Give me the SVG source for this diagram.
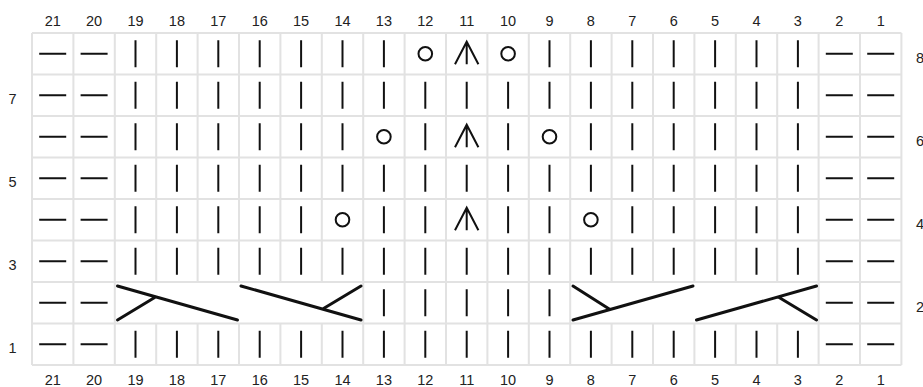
<svg xmlns="http://www.w3.org/2000/svg" xmlns:xlink="http://www.w3.org/1999/xlink" width="923" height="387" viewBox="0 0 923 387">
<style>
.grid{stroke:#e2e2e2;stroke-width:2;fill:none}
.sym{stroke:#111;stroke-width:2;fill:none;stroke-linecap:butt}
.cab{stroke:#111;stroke-width:3;fill:none;stroke-linecap:round}
.lbl{font-family:"Liberation Sans",Arial,sans-serif;font-size:14.5px;fill:#222;text-anchor:middle}
.rl{font-family:"Liberation Sans",Arial,sans-serif;font-size:14.5px;fill:#222}
</style>
<defs>
<path id="k" class="sym" d="M0,-13.5V13.5"/>
<path id="p" class="sym" d="M-13.5,0H13.5"/>
<circle id="o" class="sym" r="6.8" stroke-width="1.8"/>
<path id="a" class="sym" d="M0,-12V10.5M-11.7,10.5L0,-12L11.7,10.5"/>
</defs>
<rect width="923" height="387" fill="#fff"/>
<g id="grid" class="grid">
<path d="M32,33H901.4M32,74.5H901.4M32,116H901.4M32,157.5H901.4M32,199H901.4M32,240.5H901.4M32,282H901.4M32,323.5H901.4M32,365H901.4"/>
<path d="M32,33V365M73.4,33V365M114.8,33V365M363.2,33V365M404.6,33V365M446,33V365M487.4,33V365M528.8,33V365M570.2,33V365M818.6,33V365M860,33V365M901.4,33V365"/>
<path d="M156.2,33V282M197.6,33V282M239,33V282M280.4,33V282M321.8,33V282M611.6,33V282M653,33V282M694.4,33V282M735.8,33V282M777.2,33V282"/>
<path d="M156.2,323.5V365M197.6,323.5V365M239,323.5V365M280.4,323.5V365M321.8,323.5V365M611.6,323.5V365M653,323.5V365M694.4,323.5V365M735.8,323.5V365M777.2,323.5V365"/>
</g>
<g id="col-labels-top" class="lbl">
<text x="52.7" y="26">21</text><text x="94.1" y="26">20</text><text x="135.5" y="26">19</text><text x="176.9" y="26">18</text><text x="218.3" y="26">17</text><text x="259.7" y="26">16</text><text x="301.1" y="26">15</text><text x="342.5" y="26">14</text><text x="383.9" y="26">13</text><text x="425.3" y="26">12</text><text x="466.7" y="26">11</text><text x="508.1" y="26">10</text><text x="549.5" y="26">9</text><text x="590.9" y="26">8</text><text x="632.3" y="26">7</text><text x="673.7" y="26">6</text><text x="715.1" y="26">5</text><text x="756.5" y="26">4</text><text x="797.9" y="26">3</text><text x="839.3" y="26">2</text><text x="880.7" y="26">1</text>
</g>
<g id="col-labels-bottom" class="lbl">
<text x="52.7" y="384.5">21</text><text x="94.1" y="384.5">20</text><text x="135.5" y="384.5">19</text><text x="176.9" y="384.5">18</text><text x="218.3" y="384.5">17</text><text x="259.7" y="384.5">16</text><text x="301.1" y="384.5">15</text><text x="342.5" y="384.5">14</text><text x="383.9" y="384.5">13</text><text x="425.3" y="384.5">12</text><text x="466.7" y="384.5">11</text><text x="508.1" y="384.5">10</text><text x="549.5" y="384.5">9</text><text x="590.9" y="384.5">8</text><text x="632.3" y="384.5">7</text><text x="673.7" y="384.5">6</text><text x="715.1" y="384.5">5</text><text x="756.5" y="384.5">4</text><text x="797.9" y="384.5">3</text><text x="839.3" y="384.5">2</text><text x="880.7" y="384.5">1</text>
</g>
<g id="row-labels-left" class="lbl">
<text x="12.5" y="103.5">7</text><text x="12.5" y="186.5">5</text><text x="12.5" y="269.5">3</text><text x="12.5" y="352.5">1</text>
</g>
<g id="row-labels-right" class="rl">
<text x="916" y="62.5">8</text><text x="916" y="145.5">6</text><text x="916" y="228.5">4</text><text x="916" y="311.5">2</text>
</g>
<g id="row8">
<use href="#p" x="52.7" y="53.75"/><use href="#p" x="94.1" y="53.75"/>
<use href="#k" x="135.5" y="53.75"/><use href="#k" x="176.9" y="53.75"/><use href="#k" x="218.3" y="53.75"/><use href="#k" x="259.7" y="53.75"/><use href="#k" x="301.1" y="53.75"/><use href="#k" x="342.5" y="53.75"/><use href="#k" x="383.9" y="53.75"/>
<use href="#o" x="425.3" y="53.75"/><use href="#a" x="466.7" y="53.75"/><use href="#o" x="508.1" y="53.75"/>
<use href="#k" x="549.5" y="53.75"/><use href="#k" x="590.9" y="53.75"/><use href="#k" x="632.3" y="53.75"/><use href="#k" x="673.7" y="53.75"/><use href="#k" x="715.1" y="53.75"/><use href="#k" x="756.5" y="53.75"/><use href="#k" x="797.9" y="53.75"/>
<use href="#p" x="839.3" y="53.75"/><use href="#p" x="880.7" y="53.75"/>
</g>
<g id="row7">
<use href="#p" x="52.7" y="95.25"/><use href="#p" x="94.1" y="95.25"/>
<use href="#k" x="135.5" y="95.25"/><use href="#k" x="176.9" y="95.25"/><use href="#k" x="218.3" y="95.25"/><use href="#k" x="259.7" y="95.25"/><use href="#k" x="301.1" y="95.25"/><use href="#k" x="342.5" y="95.25"/><use href="#k" x="383.9" y="95.25"/><use href="#k" x="425.3" y="95.25"/><use href="#k" x="466.7" y="95.25"/><use href="#k" x="508.1" y="95.25"/><use href="#k" x="549.5" y="95.25"/><use href="#k" x="590.9" y="95.25"/><use href="#k" x="632.3" y="95.25"/><use href="#k" x="673.7" y="95.25"/><use href="#k" x="715.1" y="95.25"/><use href="#k" x="756.5" y="95.25"/><use href="#k" x="797.9" y="95.25"/>
<use href="#p" x="839.3" y="95.25"/><use href="#p" x="880.7" y="95.25"/>
</g>
<g id="row6">
<use href="#p" x="52.7" y="136.75"/><use href="#p" x="94.1" y="136.75"/>
<use href="#k" x="135.5" y="136.75"/><use href="#k" x="176.9" y="136.75"/><use href="#k" x="218.3" y="136.75"/><use href="#k" x="259.7" y="136.75"/><use href="#k" x="301.1" y="136.75"/><use href="#k" x="342.5" y="136.75"/>
<use href="#o" x="383.9" y="136.75"/><use href="#k" x="425.3" y="136.75"/><use href="#a" x="466.7" y="136.75"/><use href="#k" x="508.1" y="136.75"/><use href="#o" x="549.5" y="136.75"/>
<use href="#k" x="590.9" y="136.75"/><use href="#k" x="632.3" y="136.75"/><use href="#k" x="673.7" y="136.75"/><use href="#k" x="715.1" y="136.75"/><use href="#k" x="756.5" y="136.75"/><use href="#k" x="797.9" y="136.75"/>
<use href="#p" x="839.3" y="136.75"/><use href="#p" x="880.7" y="136.75"/>
</g>
<g id="row5">
<use href="#p" x="52.7" y="178.25"/><use href="#p" x="94.1" y="178.25"/>
<use href="#k" x="135.5" y="178.25"/><use href="#k" x="176.9" y="178.25"/><use href="#k" x="218.3" y="178.25"/><use href="#k" x="259.7" y="178.25"/><use href="#k" x="301.1" y="178.25"/><use href="#k" x="342.5" y="178.25"/><use href="#k" x="383.9" y="178.25"/><use href="#k" x="425.3" y="178.25"/><use href="#k" x="466.7" y="178.25"/><use href="#k" x="508.1" y="178.25"/><use href="#k" x="549.5" y="178.25"/><use href="#k" x="590.9" y="178.25"/><use href="#k" x="632.3" y="178.25"/><use href="#k" x="673.7" y="178.25"/><use href="#k" x="715.1" y="178.25"/><use href="#k" x="756.5" y="178.25"/><use href="#k" x="797.9" y="178.25"/>
<use href="#p" x="839.3" y="178.25"/><use href="#p" x="880.7" y="178.25"/>
</g>
<g id="row4">
<use href="#p" x="52.7" y="219.75"/><use href="#p" x="94.1" y="219.75"/>
<use href="#k" x="135.5" y="219.75"/><use href="#k" x="176.9" y="219.75"/><use href="#k" x="218.3" y="219.75"/><use href="#k" x="259.7" y="219.75"/><use href="#k" x="301.1" y="219.75"/>
<use href="#o" x="342.5" y="219.75"/><use href="#k" x="383.9" y="219.75"/><use href="#k" x="425.3" y="219.75"/><use href="#a" x="466.7" y="219.75"/><use href="#k" x="508.1" y="219.75"/><use href="#k" x="549.5" y="219.75"/><use href="#o" x="590.9" y="219.75"/>
<use href="#k" x="632.3" y="219.75"/><use href="#k" x="673.7" y="219.75"/><use href="#k" x="715.1" y="219.75"/><use href="#k" x="756.5" y="219.75"/><use href="#k" x="797.9" y="219.75"/>
<use href="#p" x="839.3" y="219.75"/><use href="#p" x="880.7" y="219.75"/>
</g>
<g id="row3">
<use href="#p" x="52.7" y="261.25"/><use href="#p" x="94.1" y="261.25"/>
<use href="#k" x="135.5" y="261.25"/><use href="#k" x="176.9" y="261.25"/><use href="#k" x="218.3" y="261.25"/><use href="#k" x="259.7" y="261.25"/><use href="#k" x="301.1" y="261.25"/><use href="#k" x="342.5" y="261.25"/><use href="#k" x="383.9" y="261.25"/><use href="#k" x="425.3" y="261.25"/><use href="#k" x="466.7" y="261.25"/><use href="#k" x="508.1" y="261.25"/><use href="#k" x="549.5" y="261.25"/><use href="#k" x="590.9" y="261.25"/><use href="#k" x="632.3" y="261.25"/><use href="#k" x="673.7" y="261.25"/><use href="#k" x="715.1" y="261.25"/><use href="#k" x="756.5" y="261.25"/><use href="#k" x="797.9" y="261.25"/>
<use href="#p" x="839.3" y="261.25"/><use href="#p" x="880.7" y="261.25"/>
</g>
<g id="row2">
<use href="#p" x="52.7" y="302.75"/><use href="#p" x="94.1" y="302.75"/>
<use href="#k" x="383.9" y="302.75"/><use href="#k" x="425.3" y="302.75"/><use href="#k" x="466.7" y="302.75"/><use href="#k" x="508.1" y="302.75"/><use href="#k" x="549.5" y="302.75"/>
<use href="#p" x="839.3" y="302.75"/><use href="#p" x="880.7" y="302.75"/>
<g id="cable-19-17" class="cab"><path d="M117.5,286L237.5,320M117.5,320L155.5,297"/></g>
<g id="cable-16-14" class="cab"><path d="M241,286L361,320M361,286L322.7,309"/></g>
<g id="cable-8-6" class="cab"><path d="M573,320L693,286M573,286L610,309.5"/></g>
<g id="cable-5-3" class="cab"><path d="M696.5,320L816.5,286M816.5,320L778.3,297"/></g>
</g>
<g id="row1">
<use href="#p" x="52.7" y="344.25"/><use href="#p" x="94.1" y="344.25"/>
<use href="#k" x="135.5" y="344.25"/><use href="#k" x="176.9" y="344.25"/><use href="#k" x="218.3" y="344.25"/><use href="#k" x="259.7" y="344.25"/><use href="#k" x="301.1" y="344.25"/><use href="#k" x="342.5" y="344.25"/><use href="#k" x="383.9" y="344.25"/><use href="#k" x="425.3" y="344.25"/><use href="#k" x="466.7" y="344.25"/><use href="#k" x="508.1" y="344.25"/><use href="#k" x="549.5" y="344.25"/><use href="#k" x="590.9" y="344.25"/><use href="#k" x="632.3" y="344.25"/><use href="#k" x="673.7" y="344.25"/><use href="#k" x="715.1" y="344.25"/><use href="#k" x="756.5" y="344.25"/><use href="#k" x="797.9" y="344.25"/>
<use href="#p" x="839.3" y="344.25"/><use href="#p" x="880.7" y="344.25"/>
</g>
</svg>
